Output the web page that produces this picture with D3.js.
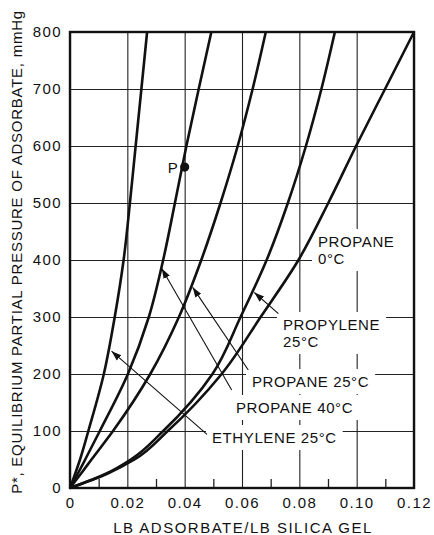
<!DOCTYPE html>
<html><head><meta charset="utf-8">
<script src="https://cdn.jsdelivr.net/npm/d3@7"></script>
<style>
html,body{margin:0;padding:0;background:#fff;}
svg{display:block;font-family:"Liberation Sans",Arial,sans-serif;}
</style></head>
<body><svg id="chart" width="434" height="535"></svg>
<script>
// ---- data ----
const pressures   = [0, 25, 50, 100, 200, 300, 400, 500, 600, 700, 800];
const ethylene25  = [0, 0.0018, 0.0035, 0.0064, 0.0118, 0.0156, 0.0187, 0.0209, 0.0229, 0.0249, 0.0269];
const propane40   = [0, 0.0027, 0.0053, 0.0104, 0.0202, 0.0275, 0.0325, 0.0366, 0.0406, 0.0449, 0.0493];
const propane25   = [0, 0.0038, 0.0075, 0.0150, 0.0280, 0.0380, 0.0458, 0.0525, 0.0585, 0.0637, 0.0683];
const propylene25 = [0, 0.0125, 0.0212, 0.0325, 0.0497, 0.0595, 0.0686, 0.0760, 0.0823, 0.0877, 0.0924];
const propane0    = [0, 0.0130, 0.0225, 0.0341, 0.0529, 0.0665, 0.0797, 0.0901, 0.0998, 0.1099, 0.1200];
const seriesNames = ["ETHYLENE 25°C", "PROPANE 40°C", "PROPANE 25°C", "PROPYLENE 25°C", "PROPANE 0°C"];
const seriesValues = [ethylene25, propane40, propane25, propylene25, propane0];
const pointP = {label: "P", loading: 0.040, pressure: 563};
const xTicks = [0, 0.02, 0.04, 0.06, 0.08, 0.10, 0.12];
const xTickLabels = ["0", "0.02", "0.04", "0.06", "0.08", "0.10", "0.12"];
const xMinorTicks = [0.01, 0.03, 0.05, 0.07, 0.09, 0.11];
const yTicks = [0, 100, 200, 300, 400, 500, 600, 700, 800];
const yTickLabels = ["0", "100", "200", "300", "400", "500", "600", "700", "800"];
const xTitle = "LB ADSORBATE/LB SILICA GEL";
const yTitle = "P*, EQUILIBRIUM PARTIAL PRESSURE OF ADSORBATE, mmHg";
const labelLines = [["PROPANE", "0°C"], ["PROPYLENE", "25°C"], ["PROPANE 25°C"], ["PROPANE 40°C"], ["ETHYLENE 25°C"]];

// ---- layout ----
const svg = d3.select("#chart");
const x = d3.scaleLinear().domain([0, 0.12]).range([70, 414]);
const y = d3.scaleLinear().domain([0, 800]).range([488, 32]);
const ink = "#111";

// gridlines + tick labels via axes
const gx = svg.append("g").attr("transform", `translate(0,${y(0)})`)
  .call(d3.axisBottom(x).tickValues(xTicks).tickSize(-(y(0) - y(800))).tickPadding(9)
    .tickFormat((d, i) => xTickLabels[i]));
const gy = svg.append("g").attr("transform", `translate(${x(0)},0)`)
  .call(d3.axisLeft(y).tickValues(yTicks).tickSize(-(x(0.12) - x(0))).tickPadding(8)
    .tickFormat((d, i) => yTickLabels[i]));
const gm = svg.append("g").attr("transform", `translate(0,${y(0)})`)
  .call(d3.axisBottom(x).tickValues(xMinorTicks).tickSize(-9).tickFormat(""));
[gx, gy, gm].forEach(g => {
  g.select(".domain").remove();
  g.selectAll(".tick line").attr("stroke", "#222").attr("stroke-width", 1.1);
  g.selectAll(".tick text").attr("fill", ink).attr("font-size", 15).attr("letter-spacing", 1.4)
    .attr("font-family", "'Liberation Sans', Arial, sans-serif");
});
gm.selectAll(".tick line").attr("stroke-width", 1.3);

// curve labels on white patches that break the grid
const lineGap = 17;
const labelG = svg.append("g");
const pbaseline = [247, 330, 387, 413, 443];
const pleft = [318, 283, 252, 236, 212];
labelLines.forEach((lines, i) => {
  const g = labelG.append("g");
  const t = g.append("text").attr("fill", ink).attr("font-size", 15).attr("letter-spacing", 0.6);
  lines.forEach((ln, j) => {
    t.append("tspan").attr("x", pleft[i]).attr("y", pbaseline[i] + j * lineGap).text(ln);
  });
  const bb = t.node().getBBox();
  const right = i === 0 ? x(0.12) : bb.x + bb.width + 6;
  g.insert("rect", "text").attr("x", bb.x - 6).attr("y", bb.y - 4)
    .attr("width", right - (bb.x - 6)).attr("height", bb.height + 8)
    .attr("fill", "#fff");
});

// frame
svg.append("rect").attr("x", x(0)).attr("y", y(800)).attr("width", x(0.12) - x(0)).attr("height", y(0) - y(800))
  .attr("fill", "none").attr("stroke", ink).attr("stroke-width", 2.4);

// curves
const line = d3.line().x(d => x(d[0])).y(d => y(d[1])).curve(d3.curveMonotoneY);
seriesValues.forEach((vals, i) => {
  svg.append("path").datum(vals.map((v, k) => [v, pressures[k]]))
    .attr("d", line).attr("fill", "none").attr("stroke", ink).attr("stroke-width", 2.6)
    .attr("stroke-linejoin", "round").attr("class", "series").attr("data-name", seriesNames[i]);
});

// arrows (tail at label, tip near curve), data coords
const arrows = [
  {tail: [0.0478, 94], tip: [0.0145, 240]},
  {tail: [0.0564, 172], tip: [0.0320, 385]},
  {tail: [0.0622, 207], tip: [0.0428, 352]},
  {tail: [0.0727, 306], tip: [0.0643, 343]}
];
svg.append("defs").append("marker").attr("id", "ah").attr("viewBox", "0 0 10 10")
  .attr("refX", 10).attr("refY", 5).attr("markerWidth", 10).attr("markerHeight", 10)
  .attr("markerUnits", "userSpaceOnUse").attr("orient", "auto")
  .append("path").attr("d", "M0,1.5 L10,5 L0,8.5 Z").attr("fill", ink);
arrows.forEach(a => {
  svg.append("line").attr("x1", x(a.tail[0])).attr("y1", y(a.tail[1]))
    .attr("x2", x(a.tip[0])).attr("y2", y(a.tip[1]))
    .attr("stroke", ink).attr("stroke-width", 1.1).attr("marker-end", "url(#ah)");
});

// point P
svg.append("circle").attr("cx", x(pointP.loading)).attr("cy", y(pointP.pressure)).attr("r", 4.6).attr("fill", ink);
svg.append("text").attr("x", x(pointP.loading) - 7).attr("y", y(pointP.pressure) + 6)
  .attr("text-anchor", "end").attr("font-size", 15).attr("fill", ink).text(pointP.label);

// axis titles
svg.append("text").attr("x", 243).attr("y", 533).attr("text-anchor", "middle")
  .attr("font-size", 15).attr("letter-spacing", 1.5).attr("fill", ink).text(xTitle);
svg.append("text").attr("transform", "translate(22,252) rotate(-90)").attr("text-anchor", "middle")
  .attr("font-size", 15).attr("letter-spacing", 0.75).attr("fill", ink).text(yTitle);
</script></body></html>
